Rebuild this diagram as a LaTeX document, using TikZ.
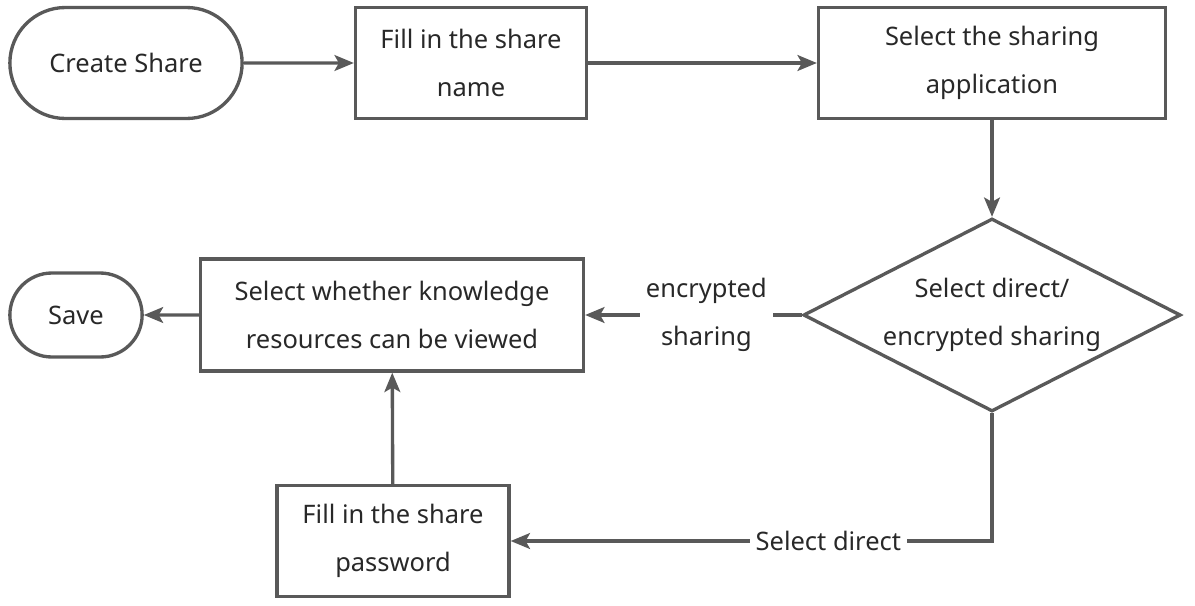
\documentclass[tikz,border=0pt]{standalone}
\usepackage{fontspec}
\setmainfont{Noto Sans}
\usetikzlibrary{arrows.meta, shapes.geometric, shapes.misc}
\definecolor{myline}{RGB}{89,89,89}
\definecolor{mytext}{RGB}{40,40,40}
\tikzset{
  box/.style={draw=myline, line width=1.9pt, rectangle, align=center, text=mytext,
    font={\fontsize{14.5}{27.5}\selectfont}},
  term/.style={box, rounded rectangle},
  choice/.style={box, diamond, aspect=1.95, inner sep=0pt},
  flow/.style={-{Stealth[length=11pt, width=9pt, inset=2.5pt]}, draw=myline, line width=1.9pt},
  lbl/.style={fill=white, text=mytext, align=center, font={\fontsize{14.5}{27.5}\selectfont}}
}
\begin{document}
\begin{tikzpicture}[x=0.02cm, y=-0.02cm]
            \useasboundingbox (0,0) rectangle (1195,605);
            \node[term, minimum width=4.88cm, minimum height=2.22cm] (create) at (126,63) {Create Share};
            \node[box, minimum width=4.62cm, minimum height=2.22cm] (name) at (471,63) {Fill in the share\\name};
            \node[box, minimum width=6.94cm, minimum height=2.22cm] (app) at (992,63) {Select the sharing\\application};
            \node[choice, minimum width=7.55cm, minimum height=3.86cm] (mode) at (992,315) {Select direct/\\encrypted sharing};
            \node[box, minimum width=7.66cm, minimum height=2.24cm] (view) at (392,315) {Select whether knowledge\\resources can be viewed};
            \node[term, minimum width=2.88cm, minimum height=1.68cm] (save) at (76,315) {Save};
            \node[box, minimum width=4.64cm, minimum height=2.22cm] (pwd) at (393,541) {Fill in the share\\password};
            \draw[flow] (create) -- (name);
            \draw[flow] (name) -- (app);
            \draw[flow] (app) -- (mode);
            \draw[flow] (mode.west) -- (view.east) node[lbl, pos=0.44] {encrypted\\sharing};
            \draw[flow] (mode.south) |- (pwd.east) node[lbl, pos=0.67] {Select direct};
            \draw[flow] (pwd) -- (view);
            \draw[flow] (view) -- (save);
        \end{tikzpicture}
\end{document}
